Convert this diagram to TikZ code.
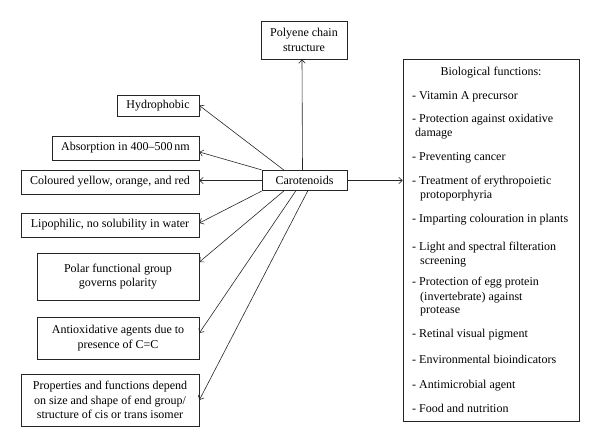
\documentclass[tikz,border=0pt]{standalone}
\usepackage{fontspec}
\setmainfont{Liberation Serif}
\usetikzlibrary{arrows.meta,calc}
\begin{document}
\begin{tikzpicture}[x=1pt,y=-1pt,
  box/.style={draw=black!85,line width=0.7pt,inner sep=0pt,align=center,font=\fontsize{12}{14.5}\selectfont},
  conn/.style={draw=black!85,line width=0.6pt,-{Straight Barb[length=3.5pt,width=6.5pt]}},
  item/.style={anchor=base west,inner sep=0pt,font=\fontsize{12}{14.5}\selectfont}]
\useasboundingbox (0,0) rectangle (600,447);
% central and top
\node[box,minimum width=86pt,minimum height=38pt] (poly) at (304,40) {Polyene chain\\structure};
\node[box,minimum width=85pt,minimum height=20.5pt] (caro) at (304.5,180.5) {Carotenoids};
% left boxes
\node[box,minimum width=82pt,minimum height=21pt] (hydro) at (158,105.5) {Hydrophobic};
\node[box,minimum width=147pt,minimum height=24pt] (absorp) at (125.5,148) {Absorption in 400--500\,nm};
\node[box,minimum width=178pt,minimum height=24pt] (colour) at (110,182) {Coloured yellow, orange, and red};
\node[box,minimum width=178pt,minimum height=24pt] (lipo) at (110,225) {Lipophilic, no solubility in water};
\node[box,minimum width=162pt,minimum height=47pt] (polar) at (118,276.5) {Polar functional group\\governs polarity};
\node[box,minimum width=162pt,minimum height=42pt] (antiox) at (118,338) {Antioxidative agents due to\\presence of C=C};
\node[box,minimum width=178pt,minimum height=52pt] (props) at (110,400) {Properties and functions depend\\on size and shape of end group/\\structure of cis or trans isomer};
% biological functions box
\node[box,minimum width=176pt,minimum height=362pt] (bio) at (491,240) {};
\node[item,anchor=base] (btitle) at (491,75.5) {Biological functions:};
\node[item] (b1) at (412,99.5) {- Vitamin A precursor};
\node[item] (b2) at (412,122.5) {- Protection against oxidative};
\node[item] (b2a) at (415,136.5) {damage};
\node[item] (b3) at (412,160.5) {- Preventing cancer};
\node[item] (b4) at (412,184) {- Treatment of erythropoietic};
\node[item] (b4a) at (420,198) {protoporphyria};
\node[item] (b5) at (412,222.5) {- Imparting colouration in plants};
\node[item] (b6) at (412,250.5) {- Light and spectral filteration};
\node[item] (b6a) at (420,264) {screening};
\node[item] (b7) at (412,285.5) {- Protection of egg protein};
\node[item] (b7a) at (420,300) {(invertebrate) against};
\node[item] (b7b) at (420,313) {protease};
\node[item] (b8) at (412,337.5) {- Retinal visual pigment};
\node[item] (b9) at (412,363.5) {- Environmental bioindicators};
\node[item] (b10) at (412,388.5) {- Antimicrobial agent};
\node[item] (b11) at (412,412.5) {- Food and nutrition};
% connectors
\draw[conn] ($(caro.north)+(-2,0)$) -- ($(poly.south)+(-2,0)$);
\draw[conn] (caro.east) -- (caro.east -| bio.west);
\draw[conn] ($(caro.north west)+(22,0)$) -- (hydro.east);
\draw[conn] (caro.north west) -- ($(absorp.east)+(0,4)$);
\draw[conn] (caro.west) -- (caro.west -| colour.east);
\draw[conn] (caro.south west) -- ($(lipo.east)+(0,-2)$);
\draw[conn] ($(caro.south west)+(22,0)$) -- ($(polar.east)+(0,-14.5)$);
\draw[conn] ($(caro.south west)+(34,0)$) -- ($(antiox.east)+(0,-5)$);
\draw[conn] ($(caro.south west)+(46,0)$) -- (props.east);
\end{tikzpicture}
\end{document}
